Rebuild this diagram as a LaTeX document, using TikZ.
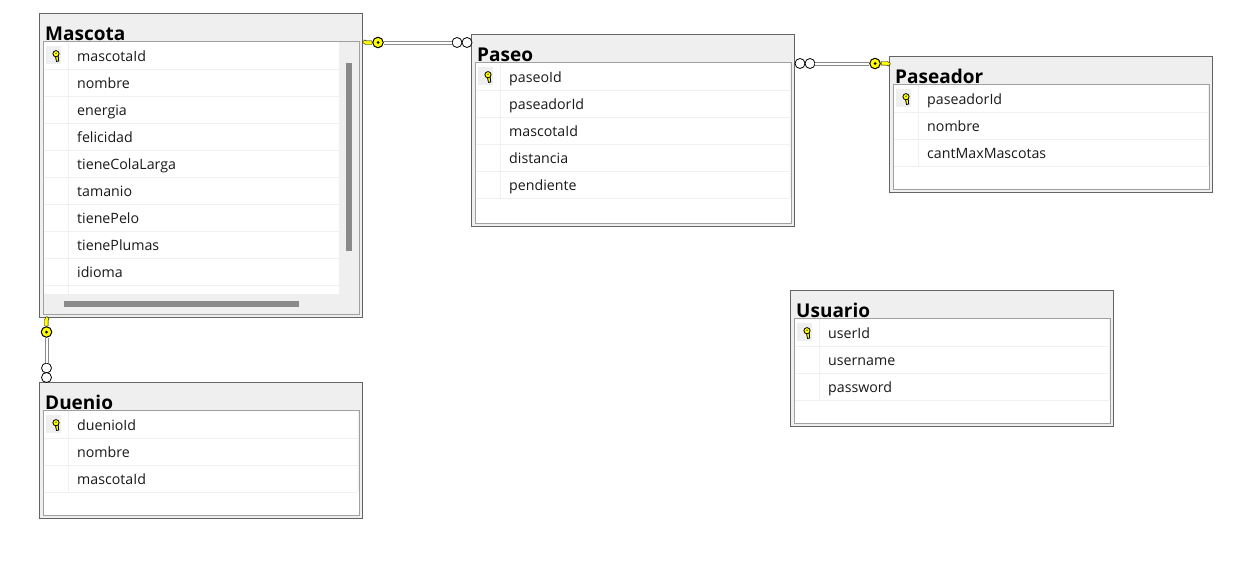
\documentclass[tikz,border=0pt]{standalone}
\usepackage{fontspec}
\setmainfont{Open Sans}
\definecolor{bandgray}{HTML}{EFEFEF}
\definecolor{outergray}{HTML}{646464}
\definecolor{innergray}{HTML}{A0A0A0}
\definecolor{rowgray}{HTML}{F0F0F0}
\definecolor{bargray}{HTML}{8A8A8A}
\definecolor{keyyellow}{HTML}{FFFF00}
\tikzset{
  tablebox/.style={draw=outergray,fill=bandgray,line width=1pt},
  listbox/.style={draw=innergray,fill=white,line width=1pt},
  rowline/.style={draw=rowgray,line width=1pt},
  scrollbar/.style={fill=bargray},
  tabletitle/.style={anchor=base west,inner sep=0pt,font=\fontsize{19}{19}\selectfont\bfseries},
  rowtext/.style={anchor=base west,inner sep=0pt,font=\fontsize{14.2}{14.2}\selectfont,text=black!90},
  relline/.style={draw=bargray,double=white,line width=1pt,double distance=2pt},
  keyhead/.style={circle,draw=black,fill=keyyellow,line width=1pt,minimum size=10.5pt,inner sep=0pt},
  manyend/.style={circle,draw=black,fill=white,line width=0.8pt,minimum size=10pt,inner sep=0pt},
  keydot/.style={circle,fill=black,minimum size=3pt,inner sep=0pt},
  keyblade/.pic={
    \fill[keyyellow,draw=black,line width=0.4pt] (0.3,-2) -- (6.5,-2) -- (9.5,-0.3) -- (9.5,0.8) -- (7.5,2.6) -- (6,1.6) -- (0.3,1.6) -- cycle;
  },
  keyicon/.pic={
    \fill[bandgray] (-10.5,-10) rectangle (4.5,8);
    \fill[keyyellow,draw=black,line width=0.8pt] (-1.3,-1) -- (0,5.5) -- (2.2,5) -- (1.6,-1) -- cycle;
    \fill[keyyellow,draw=black,line width=0.8pt] (-0.5,-2.3) circle[radius=3.1];
    \fill[black] (-0.5,-2.8) circle[radius=0.7];
  },
}
\begin{document}
\begin{tikzpicture}[x=1pt,y=-1pt]
    \useasboundingbox[fill=white] (0,0) rectangle (1247,562);

    % Mascota
    \draw[tablebox] (39.5,13.5) rectangle (362,317);
    \node[tabletitle] (mascotaTitle) at (45,40) {Mascota};
    \fill[bandgray] (43,41) rectangle (359,314);
    \draw[innergray,line width=1pt] (43,314) -- (43,41) -- (359,41) -- (359,314) -- cycle;
    \fill[white] (44,42) rectangle (339,294);
    \draw[rowline] (44,69.5) -- (339,69.5);
    \draw[rowline] (44,96.5) -- (339,96.5);
    \draw[rowline] (44,123.5) -- (339,123.5);
    \draw[rowline] (44,150.5) -- (339,150.5);
    \draw[rowline] (44,177.5) -- (339,177.5);
    \draw[rowline] (44,204.5) -- (339,204.5);
    \draw[rowline] (44,231.5) -- (339,231.5);
    \draw[rowline] (44,258.5) -- (339,258.5);
    \draw[rowline] (44,285.5) -- (339,285.5);
    \draw[rowline] (68.5,42) -- (68.5,294);
    \fill[scrollbar] (346,63) rectangle (352,251);
    \fill[scrollbar] (64,301) rectangle (299,307);
    \pic at (56.5,56) {keyicon};
    \node[rowtext] (mascotaId) at (77,61) {mascotaId};
    \node[rowtext] (mascotaNombre) at (77,88) {nombre};
    \node[rowtext] (mascotaEnergia) at (77,115) {energia};
    \node[rowtext] (mascotaFelicidad) at (77,142) {felicidad};
    \node[rowtext] (mascotaCola) at (77,169) {tieneColaLarga};
    \node[rowtext] (mascotaTamanio) at (77,196) {tamanio};
    \node[rowtext] (mascotaPelo) at (77,223) {tienePelo};
    \node[rowtext] (mascotaPlumas) at (77,250) {tienePlumas};
    \node[rowtext] (mascotaIdioma) at (77,277) {idioma};

    % Paseo
    \draw[tablebox] (471.5,34.5) rectangle (794,226);
    \node[tabletitle] (paseoTitle) at (477,61) {Paseo};
    \draw[listbox] (475,62) rectangle (791,223);
    \draw[rowline] (476,90.5) -- (790,90.5);
    \draw[rowline] (476,117.5) -- (790,117.5);
    \draw[rowline] (476,144.5) -- (790,144.5);
    \draw[rowline] (476,171.5) -- (790,171.5);
    \draw[rowline] (476,198.5) -- (790,198.5);
    \draw[rowline] (500.5,63) -- (500.5,198);
    \draw[rowline] (790,63) -- (790,198);
    \pic at (488.5,77) {keyicon};
    \node[rowtext] (paseoId) at (509,82) {paseoId};
    \node[rowtext] (paseoPaseador) at (509,109) {paseadorId};
    \node[rowtext] (paseoMascota) at (509,136) {mascotaId};
    \node[rowtext] (paseoDistancia) at (509,163) {distancia};
    \node[rowtext] (paseoPendiente) at (509,190) {pendiente};

    % Paseador
    \draw[tablebox] (889.5,56.5) rectangle (1212,192);
    \node[tabletitle] (paseadorTitle) at (895,83) {Paseador};
    \draw[listbox] (893,84) rectangle (1209,189);
    \draw[rowline] (894,112.5) -- (1208,112.5);
    \draw[rowline] (894,139.5) -- (1208,139.5);
    \draw[rowline] (894,166.5) -- (1208,166.5);
    \draw[rowline] (918.5,85) -- (918.5,166);
    \draw[rowline] (1208,85) -- (1208,166);
    \pic at (906.5,99) {keyicon};
    \node[rowtext] (paseadorId) at (927,104) {paseadorId};
    \node[rowtext] (paseadorNombre) at (927,131) {nombre};
    \node[rowtext] (paseadorCant) at (927,158) {cantMaxMascotas};

    % Usuario
    \draw[tablebox] (790.5,290.5) rectangle (1113,426);
    \node[tabletitle] (usuarioTitle) at (796,317) {Usuario};
    \draw[listbox] (794,318) rectangle (1110,423);
    \draw[rowline] (795,346.5) -- (1109,346.5);
    \draw[rowline] (795,373.5) -- (1109,373.5);
    \draw[rowline] (795,400.5) -- (1109,400.5);
    \draw[rowline] (819.5,319) -- (819.5,400);
    \draw[rowline] (1109,319) -- (1109,400);
    \pic at (807.5,333) {keyicon};
    \node[rowtext] (usuarioId) at (828,338) {userId};
    \node[rowtext] (usuarioName) at (828,365) {username};
    \node[rowtext] (usuarioPass) at (828,392) {password};

    % Duenio
    \draw[tablebox] (39.5,382.5) rectangle (362,518);
    \node[tabletitle] (duenioTitle) at (45,409) {Duenio};
    \draw[listbox] (43,410) rectangle (359,515);
    \draw[rowline] (44,438.5) -- (358,438.5);
    \draw[rowline] (44,465.5) -- (358,465.5);
    \draw[rowline] (44,492.5) -- (358,492.5);
    \draw[rowline] (68.5,411) -- (68.5,492);
    \draw[rowline] (358,411) -- (358,492);
    \pic at (56.5,425) {keyicon};
    \node[rowtext] (duenioId) at (77,430) {duenioId};
    \node[rowtext] (duenioNombre) at (77,457) {nombre};
    \node[rowtext] (duenioMascota) at (77,484) {mascotaId};

    % relaciones
    \node[keyhead] (keyMascotaPaseo) at (378,42.5) {};
    \node[manyend] (manyPaseoOut) at (457,42.5) {};
    \node[manyend] (manyPaseoIn) at (467,42.5) {};
    \draw[relline] (keyMascotaPaseo) -- (manyPaseoOut);
    \pic[rotate=180] at (keyMascotaPaseo.west) {keyblade};
    \node[keydot] (dotMascotaPaseo) at (keyMascotaPaseo) {};

    \node[manyend] (manyPaseador) at (800,63.5) {};
    \node[manyend] (manyPaseadorIn) at (810,63.5) {};
    \node[keyhead] (keyPaseador) at (875,63.5) {};
    \draw[relline] (manyPaseadorIn) -- (keyPaseador);
    \pic at (keyPaseador.east) {keyblade};
    \node[keydot] (dotPaseador) at (keyPaseador) {};

    \node[keyhead] (keyMascotaDuenio) at (46.5,332) {};
    \node[manyend] (manyDuenio) at (46.5,368) {};
    \node[manyend] (manyDuenioIn) at (46.5,377.5) {};
    \draw[relline] (keyMascotaDuenio) -- (manyDuenio);
    \pic[rotate=90] at (keyMascotaDuenio.north) {keyblade};
    \node[keydot] (dotMascotaDuenio) at (keyMascotaDuenio) {};
\end{tikzpicture}
\end{document}
